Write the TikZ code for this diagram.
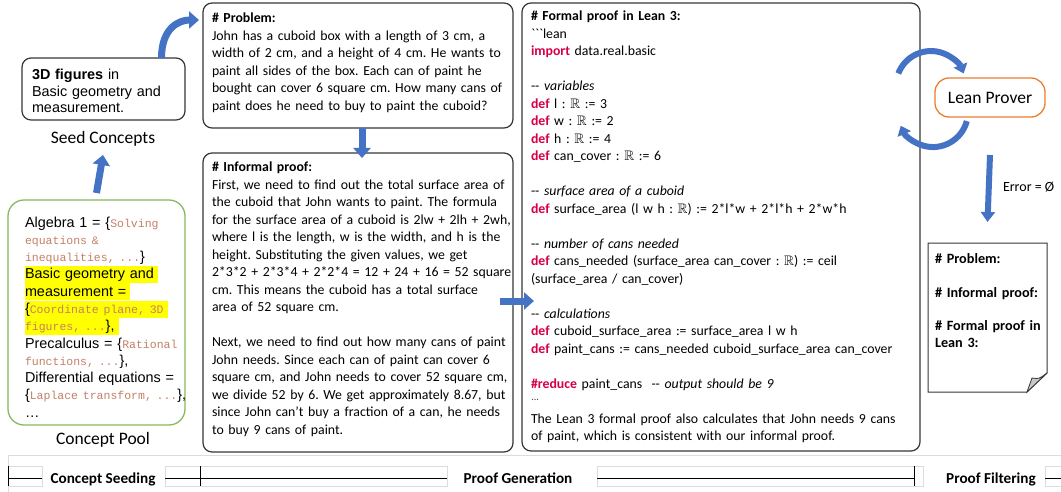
\documentclass[tikz,border=0pt]{standalone}
\usepackage{fontspec}
\usepackage{amssymb}
\usetikzlibrary{arrows.meta,calc}
\newfontfamily\calfont{Carlito}
\newfontfamily\arialfont{Liberation Sans}
\newfontfamily\pmono{Liberation Mono}
\definecolor{arrowblue}{RGB}{68,114,196}
\definecolor{leanred}{RGB}{214,0,72}
\definecolor{monoc}{RGB}{196,128,104}
\definecolor{poolgreen}{RGB}{135,185,95}
\definecolor{proverorange}{RGB}{237,125,49}
\definecolor{boxc}{RGB}{55,55,55}
\definecolor{hly}{RGB}{255,255,0}
\definecolor{barc}{RGB}{220,220,220}
\definecolor{flapc}{RGB}{200,200,200}
\newcommand\kw[1]{\textcolor{leanred}{\bfseries #1}}
\newcommand\mc[1]{{\pmono\fontsize{11.5}{17.3}\selectfont\textcolor{monoc}{#1}}}
\newcommand\hlt[1]{{\setlength\fboxsep{0pt}\colorbox{hly}{\rule[-4.3pt]{0pt}{17.3pt}#1\hspace{4pt}}}}
\newcommand\dd{-\kern0pt-}
\newcommand\RR{$\mathbb{R}$}
\newcommand\bt{\textasciigrave}
\tikzset{
  every node/.style={inner sep=0pt, outer sep=0pt},
  panel/.style={draw=boxc, line width=1.2pt, rounded corners=9pt},
  bodytext/.style={anchor=base west, align=left, font=\calfont\frenchspacing\fontsize{13.8}{17.5}\selectfont},
  arialtext/.style={anchor=base west, align=left, font=\arialfont\frenchspacing\fontsize{14.4}{16.5}\selectfont},
  pooltext/.style={anchor=base west, align=left, text width=175pt, font=\arialfont\frenchspacing\fontsize{14.4}{17.3}\selectfont},
  caption/.style={font=\calfont\fontsize{17.5}{20}\selectfont, text height=12pt, text depth=4pt},
  stage/.style={anchor=base, font=\calfont\bfseries\fontsize{15.2}{18}\selectfont},
  blockarrow/.style={draw=arrowblue, line width=7pt, -{Triangle[width=17pt,length=10pt]}},
  thinblock/.style={draw=arrowblue, line width=6pt, -{Triangle[width=14pt,length=10pt]}},
  looparrow/.style={draw=arrowblue, line width=6pt, -{Triangle[width=14pt,length=9pt]}},
  barline/.style={draw=barc, line width=0.8pt},
  tick/.style={draw=black, line width=0.9pt},
}
\begin{document}
\begin{tikzpicture}[x=1pt,y=-1pt]
\useasboundingbox (0,0) rectangle (1061,492);
\fill[white] (0,0) rectangle (1061,492);

% ---------- Concept seeding ----------
\node[panel, minimum width=163pt, minimum height=62pt] (seed) at (103.5,89) {};
\node[arialtext, text width=150pt] (seedtxt) at (32,80) {\textbf{3D figures} in\\Basic geometry and\\measurement.};
\node[caption] (seedlbl) at (103,140) {Seed Concepts};

\node[draw=poolgreen, line width=1.3pt, rounded corners=16pt, minimum width=177pt, minimum height=225pt] (pool) at (96.5,312.5) {};
\node[pooltext] (pooltxt) at (25,227) {Algebra 1 = \{\mc{Solving}\\
\mc{equations \&}\\
\mc{inequalities, ...}\}\\
\hlt{Basic geometry and}\\
\hlt{measurement =}\\
\hlt{\{\mc{Coordinate plane, 3D}}\\
\hlt{\mc{figures, ...}\},}\\
Precalculus = \{\mc{Rational}\\
\mc{functions, ...}\},\\
Differential equations =\\
\{\mc{Laplace transform, ...}\},\\
…};
\node[caption] (poollbl) at (103,440) {Concept Pool};

% ---------- Proof generation ----------
\node[panel, minimum width=310pt, minimum height=125pt] (prob) at (358,65.5) {};
\node[bodytext, text width=330pt] (probtxt) at (212,23) {\textbf{\# Problem:}\\
John has a cuboid box with a length of 3 cm, a\\
width of 2 cm, and a height of 4 cm. He wants to\\
paint all sides of the box. Each can of paint he\\
bought can cover 6 square cm. How many cans of\\
paint does he need to buy to paint the cuboid?};

\node[panel, minimum width=310pt, minimum height=299pt] (inf) at (358,302.5) {};
\node[bodytext, text width=330pt] (inftxt) at (212,172) {\textbf{\# Informal proof:}\\
First, we need to find out the total surface area of\\
the cuboid that John wants to paint. The formula\\
for the surface area of a cuboid is 2lw + 2lh + 2wh,\\
where l is the length, w is the width, and h is the\\
height. Substituting the given values, we get\\
2*3*2 + 2*3*4 + 2*2*4 = 12 + 24 + 16 = 52 square\\
cm. This means the cuboid has a total surface\\
area of 52 square cm.\\[17.5pt]
Next, we need to find out how many cans of paint\\
John needs. Since each can of paint can cover 6\\
square cm, and John needs to cover 52 square cm,\\
we divide 52 by 6. We get approximately 8.67, but\\
since John can’t buy a fraction of a can, he needs\\
to buy 9 cans of paint.};

\node[panel, minimum width=398pt, minimum height=448pt] (lean) at (721,227) {};
\node[bodytext, text width=390pt] (leantxt) at (531,21) {\textbf{\# Formal proof in Lean 3:}\\
\bt\bt\bt lean\\
\kw{import} data.real.basic\\[17.5pt]
\dd\ \textit{variables}\\
\kw{def} l : \RR\ := 3\\
\kw{def} w : \RR\ := 2\\
\kw{def} h : \RR\ := 4\\
\kw{def} can\_cover : \RR\ := 6\\[17.5pt]
\dd\ \textit{surface area of a cuboid}\\
\kw{def} surface\_area (l w h : \RR) := 2*l*w + 2*l*h + 2*w*h\\[17.5pt]
\dd\ \textit{number of cans needed}\\
\kw{def} cans\_needed (surface\_area can\_cover : \RR) := ceil\\
(surface\_area / can\_cover)\\[17.5pt]
\dd\ \textit{calculations}\\
\kw{def} cuboid\_surface\_area := surface\_area l w h\\
\kw{def} paint\_cans := cans\_needed cuboid\_surface\_area can\_cover\\[17.5pt]
\kw{\#reduce} paint\_cans\ \ \dd\ \textit{output should be 9}\\
{\fontsize{9}{17.5}\selectfont\bt\bt\bt}\\
The Lean 3 formal proof also calculates that John needs 9 cans\\
of paint, which is consistent with our informal proof.};

% ---------- Proof filtering ----------
\node[draw=proverorange, line width=1.3pt, rounded corners=14pt, minimum width=110pt, minimum height=39pt, font=\calfont\fontsize{17.5}{20}\selectfont] (prover) at (990,97.5) {Lean Prover};
\draw[looparrow] (898.3,73.5) arc[start angle=201, end angle=339, radius=35];
\draw[looparrow] (966.8,121.1) arc[start angle=15, end angle=157, radius=35];

\node[minimum width=119pt, minimum height=149pt] (doc) at (987.5,317.5) {};
\draw[draw=boxc, line width=1pt, fill=white] (doc.north west) -- (doc.north east) -- ($(doc.south east)+(0,-19)$) -- ($(doc.south east)+(-20,0)$) -- (doc.south west) -- cycle;
\filldraw[draw=boxc, line width=0.8pt, fill=flapc] ($(doc.south east)+(0,-19)$) .. controls ($(doc.south east)+(-8,-13)$) .. ($(doc.south east)+(-15,-14)$) -- ($(doc.south east)+(-20,0)$) -- cycle;
\node[anchor=base west, align=left, text width=115pt, font=\calfont\bfseries\frenchspacing\fontsize{14.2}{17}\selectfont] (doctxt) at (935,263) {\# Problem:\\[17pt]
\# Informal proof:\\[16pt]
\# Formal proof in\\
Lean 3:};

\node[anchor=west, font=\calfont\fontsize{14}{17}\selectfont] (errlbl) at (1003,187) {Error = Ø};

% ---------- connectors ----------
\draw[blockarrow] ([yshift=7pt]pool.north) -- ([yshift=-7pt]seedlbl.south);
\draw[blockarrow] ([xshift=58pt]seed.north) .. controls +(0,-30) and +(-20,0) .. ($(prob.north west)+(-4,17)$);
\draw[blockarrow] ([xshift=4pt]prob.south) -- ([xshift=4pt,yshift=-5pt]inf.north);
\draw[blockarrow] ([xshift=-13pt,yshift=1.5pt]inf.east) -- ($(inf.east -| lean.west)+(12,-1.5)$);
\draw[thinblock] ([yshift=-38pt]prover.south) -- ([yshift=21pt]doc.north);

% ---------- stage bar ----------
\draw[barline] (8,455) -- (1061,455);
\draw[barline] (8,455) -- (8,492);
\draw[barline] (8,466) rectangle (42,486);
\draw[barline] (165,466) rectangle (447,486);
\draw[barline] (597,466) rectangle (923,486);
\draw[barline] (1045,466) rectangle (1061,486);
\draw[tick] (8,466) -- (8,486);
\draw[tick] (8,478) -- (42,478);
\draw[tick] (165,478) -- (447,478);
\draw[tick] (200,466) -- (200,486);
\draw[tick] (597,478) -- (914,478);
\draw[tick] (914,466) -- (914,486);
\draw[tick] (1045,478) -- (1061,478);
\node[stage] (st1) at (103,483) {Concept Seeding};
\node[stage] (st2) at (518,483) {Proof Generation};
\node[stage] (st3) at (991,483) {Proof Filtering};
\end{tikzpicture}
\end{document}
